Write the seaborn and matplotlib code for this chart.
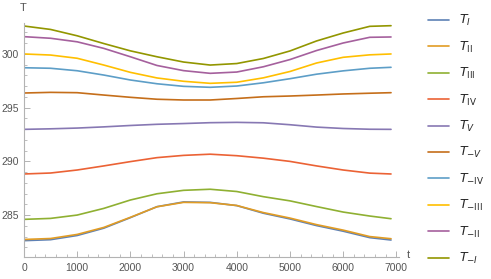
import matplotlib
matplotlib.use("Agg")
import matplotlib.pyplot as plt
from matplotlib.ticker import MultipleLocator
import numpy as np
import pandas as pd
import seaborn as sns

sns.set_style("ticks")
plt.rcParams['font.family'] = ['Liberation Sans', 'DejaVu Sans']

t = [0, 500, 1000, 1500, 2000, 2500, 3000, 3500, 4000, 4500, 5000, 5500, 6000, 6500, 6900]

T_I = [282.62, 282.71, 283.10, 283.78, 284.76, 285.78, 286.22, 286.18, 285.88, 285.17, 284.64, 284.02, 283.50, 282.90, 282.68]
T_II = [282.73, 282.82, 283.20, 283.85, 284.79, 285.77, 286.18, 286.15, 285.89, 285.23, 284.72, 284.11, 283.60, 283.00, 282.80]
T_III = [284.60, 284.69, 285.00, 285.62, 286.40, 286.98, 287.30, 287.40, 287.19, 286.71, 286.32, 285.79, 285.28, 284.91, 284.66]
T_IV = [288.82, 288.91, 289.19, 289.57, 289.97, 290.34, 290.55, 290.66, 290.52, 290.29, 289.99, 289.57, 289.19, 288.90, 288.82]
T_V = [292.97, 293.02, 293.09, 293.20, 293.33, 293.44, 293.51, 293.59, 293.62, 293.58, 293.40, 293.18, 293.05, 292.98, 292.97]
T_mV = [296.35, 296.41, 296.38, 296.16, 295.95, 295.77, 295.70, 295.70, 295.84, 296.00, 296.07, 296.16, 296.26, 296.33, 296.38]
T_mIV = [298.70, 298.65, 298.42, 298.02, 297.56, 297.21, 296.97, 296.88, 297.00, 297.30, 297.68, 298.10, 298.41, 298.65, 298.74]
T_mIII = [299.98, 299.88, 299.58, 298.95, 298.27, 297.75, 297.44, 297.25, 297.35, 297.76, 298.35, 299.14, 299.67, 299.90, 299.98]
T_mII = [301.59, 301.44, 301.11, 300.50, 299.72, 298.91, 298.43, 298.18, 298.30, 298.79, 299.46, 300.30, 301.00, 301.53, 301.56]
T_mI = [302.58, 302.26, 301.67, 300.95, 300.27, 299.72, 299.23, 298.95, 299.09, 299.56, 300.26, 301.19, 301.93, 302.55, 302.61]

names = [r"$T_{I}$", r"$T_{\mathrm{II}}$", r"$T_{\mathrm{III}}$", r"$T_{\mathrm{IV}}$", r"$T_{V}$",
         r"$T_{-V}$", r"$T_{-\mathrm{IV}}$", r"$T_{-\mathrm{III}}$", r"$T_{-\mathrm{II}}$", r"$T_{-I}$"]
series = [T_I, T_II, T_III, T_IV, T_V, T_mV, T_mIV, T_mIII, T_mII, T_mI]
colors = ['#5E81B5', '#E19C24', '#8FB032', '#EB6235', '#8778B3',
          '#C56E1A', '#5D9EC7', '#FFBF00', '#A5609D', '#929600']

df = pd.DataFrame(
    [(tt, v, n) for n, s in zip(names, series) for tt, v in zip(t, s)],
    columns=["t", "T", "curve"],
)

fig = plt.figure(figsize=(4.91, 2.79), dpi=100)
ax = fig.add_axes([24 / 491, 22 / 279, 375 / 491, 234 / 279])
sns.lineplot(data=df, x="t", y="T", hue="curve", palette=colors, hue_order=names,
             linewidth=1.2, legend=False, ax=ax)
for ln in ax.get_lines():
    ln.set_solid_joinstyle("round")

ax.set_xlim(0, 7050)
ax.set_ylim(281.1, 302.86)
ax.set_xlabel("")
ax.set_ylabel("")
for s in ["top", "right"]:
    ax.spines[s].set_visible(False)
for s in ["left", "bottom"]:
    ax.spines[s].set_color("#b3b3b3")
    ax.spines[s].set_linewidth(0.8)

ax.xaxis.set_major_locator(MultipleLocator(1000))
ax.xaxis.set_minor_locator(MultipleLocator(200))
ax.yaxis.set_major_locator(MultipleLocator(5))
ax.yaxis.set_minor_locator(MultipleLocator(1))
ax.tick_params(which="both", direction="in", color="#b3b3b3", labelcolor="#555555", labelsize=7.5)
ax.tick_params(which="major", length=4, width=0.7)
ax.tick_params(which="minor", length=2.2, width=0.6)
ax.tick_params(axis="x", pad=4)
ax.tick_params(axis="y", pad=4)

fig.text(408 / 491, 1 - 255 / 279, "t", ha="center", va="center", fontsize=8, color="#555555")
fig.text(23 / 491, 1 - 8 / 279, "T", ha="center", va="center", fontsize=8, color="#555555")

ax.legend(ax.get_lines(), names, loc="upper left", bbox_to_anchor=(428 / 491, 1 - 13 / 279),
          bbox_transform=fig.transFigure, frameon=False, fontsize=9, handlelength=1.7,
          handletextpad=0.8, labelspacing=0.91, borderpad=0, borderaxespad=0)

fig.savefig("out.png", dpi=100)
